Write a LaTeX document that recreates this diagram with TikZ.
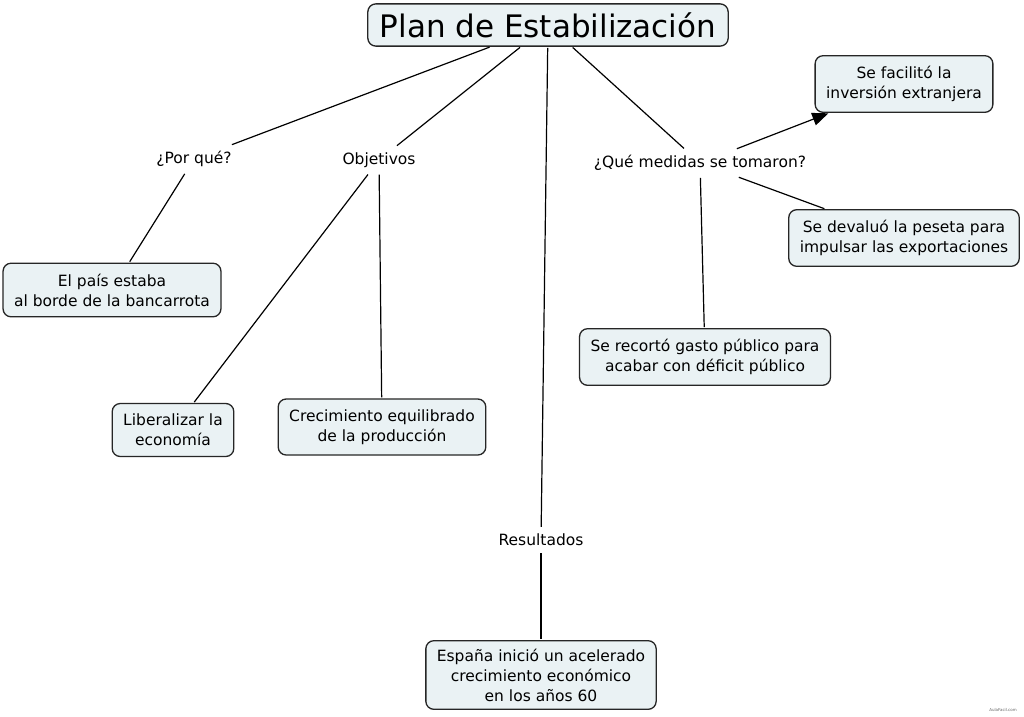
\documentclass[tikz,border=0pt]{standalone}
\usepackage{fontspec}
\setmainfont{DejaVu Sans}
\usetikzlibrary{arrows.meta}
\definecolor{cmapfill}{HTML}{EAF2F4}
\begin{document}
\begin{tikzpicture}[x=1pt, y=-1pt,
	concept/.style={draw=black!85, line width=1.3pt, rounded corners=8pt, fill=cmapfill,
		align=center, inner xsep=11pt, inner ysep=10.5pt, font=\fontsize{15.5}{20}\selectfont},
	linking/.style={align=center, inner xsep=4pt, inner ysep=6pt, font=\fontsize{15.5}{20}\selectfont},
	link/.style={line width=1.2pt, shorten <=1pt, shorten >=1pt}]

\useasboundingbox[fill=white] (0, 0) rectangle (1024, 716);

\node[concept, font=\fontsize{31}{34}\selectfont, inner xsep=12pt, inner ysep=8.5pt] (plan) at (548, 25) {Plan de Estabilización};

\node[linking] (porque) at (194, 159) {¿Por qué?};
\node[linking] (objetivos) at (379, 160) {Objetivos};
\node[linking] (medidas) at (700, 163) {¿Qué medidas se tomaron?};
\node[linking] (resultados) at (541, 540) {Resultados};

\node[concept] (bancarrota) at (112, 290) {El país estaba\\al borde de la bancarrota};
\node[concept] (liberalizar) at (173, 430) {Liberalizar la\\economía};
\node[concept] (crecimiento) at (382, 427) {Crecimiento equilibrado\\de la producción};
\node[concept] (inversion) at (904, 84) {Se facilitó la\\inversión extranjera};
\node[concept] (peseta) at (904, 238) {Se devaluó la peseta para\\impulsar las exportaciones};
\node[concept] (gasto) at (705, 357) {Se recortó gasto público para\\acabar con déficit público};
\node[concept, inner ysep=8pt] (espana) at (541, 675) {España inició un acelerado\\crecimiento económico\\en los años 60};

\foreach \a/\b in {
	plan/porque, porque/bancarrota,
	plan/objetivos, objetivos/liberalizar, objetivos/crecimiento,
	plan/resultados, resultados/espana,
	plan/medidas, medidas/peseta, medidas/gasto}
	\draw[link] (\a) -- (\b);
\draw[link, -{Triangle[length=16pt, width=13pt]}] (medidas) -- (inversion);

\node[font=\fontsize{4}{5}\selectfont, text=black!60] (marca) at (1003, 710) {AulaFacil.com};

\end{tikzpicture}
\end{document}
